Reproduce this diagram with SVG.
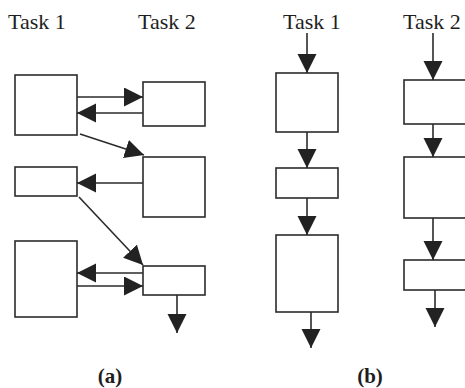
<svg xmlns="http://www.w3.org/2000/svg" width="465" height="388" viewBox="0 0 465 388">
<style>
.box{fill:#fff;stroke:#2b2b2b;stroke-width:1.6}
.ln{fill:none;stroke:#2b2b2b;stroke-width:1.6;marker-end:url(#ah)}
.t{font-family:"Liberation Serif","Times New Roman",serif;font-size:22px;fill:#1e1e1e}
.c{font-family:"Liberation Serif","Times New Roman",serif;font-size:21px;font-weight:bold;fill:#1e1e1e;text-anchor:middle}
</style>
<defs>
<marker id="ah" markerUnits="userSpaceOnUse" markerWidth="20" markerHeight="20" refX="19" refY="9.5" orient="auto" viewBox="0 0 20 20">
<path d="M0,0 L19,9.5 L0,19 Z" fill="#222"/>
</marker>
</defs>
<rect width="465" height="388" fill="#fff"/>
<g id="labels">
<text class="t" x="8" y="29">Task 1</text>
<text class="t" x="138" y="29">Task 2</text>
<text class="t" x="283" y="29">Task 1</text>
<text class="t" x="403" y="29">Task 2</text>
<text class="c" x="110" y="383">(a)</text>
<text class="c" x="370" y="383">(b)</text>
</g>
<g id="a1"><rect class="box" x="15" y="75" width="62" height="60"/></g>
<g id="a2"><rect class="box" x="143" y="82" width="62" height="44"/></g>
<g id="a3"><rect class="box" x="143" y="157" width="62" height="60"/></g>
<g id="a4"><rect class="box" x="15" y="167" width="62" height="29"/></g>
<g id="a5"><rect class="box" x="15" y="241" width="62" height="76"/></g>
<g id="a6"><rect class="box" x="143" y="266" width="62" height="29"/></g>
<g id="b1"><rect class="box" x="276" y="73" width="62" height="59"/></g>
<g id="b2"><rect class="box" x="276" y="168" width="62" height="30"/></g>
<g id="b3"><rect class="box" x="276" y="235" width="62" height="77"/></g>
<g id="c1"><rect class="box" x="404" y="80" width="64" height="44"/></g>
<g id="c2"><rect class="box" x="404" y="157" width="64" height="61"/></g>
<g id="c3"><rect class="box" x="404" y="260" width="64" height="30"/></g>
<g id="connectors">
<line class="ln" x1="77" y1="97" x2="143" y2="97"/>
<line class="ln" x1="143" y1="113" x2="77" y2="113"/>
<line class="ln" x1="80" y1="134" x2="144" y2="155"/>
<line class="ln" x1="143" y1="183" x2="77" y2="183"/>
<line class="ln" x1="79" y1="197" x2="143" y2="265"/>
<line class="ln" x1="143" y1="273" x2="77" y2="273"/>
<line class="ln" x1="77" y1="286" x2="143" y2="286"/>
<line class="ln" x1="177" y1="295" x2="177" y2="333"/>
<line class="ln" x1="307" y1="33" x2="307" y2="73"/>
<line class="ln" x1="307" y1="132" x2="307" y2="168"/>
<line class="ln" x1="307" y1="198" x2="307" y2="235"/>
<line class="ln" x1="311" y1="312" x2="311" y2="348"/>
<line class="ln" x1="433" y1="33" x2="433" y2="80"/>
<line class="ln" x1="433" y1="124" x2="433" y2="157"/>
<line class="ln" x1="433" y1="218" x2="433" y2="260"/>
<line class="ln" x1="435" y1="290" x2="435" y2="327"/>
</g>
</svg>
